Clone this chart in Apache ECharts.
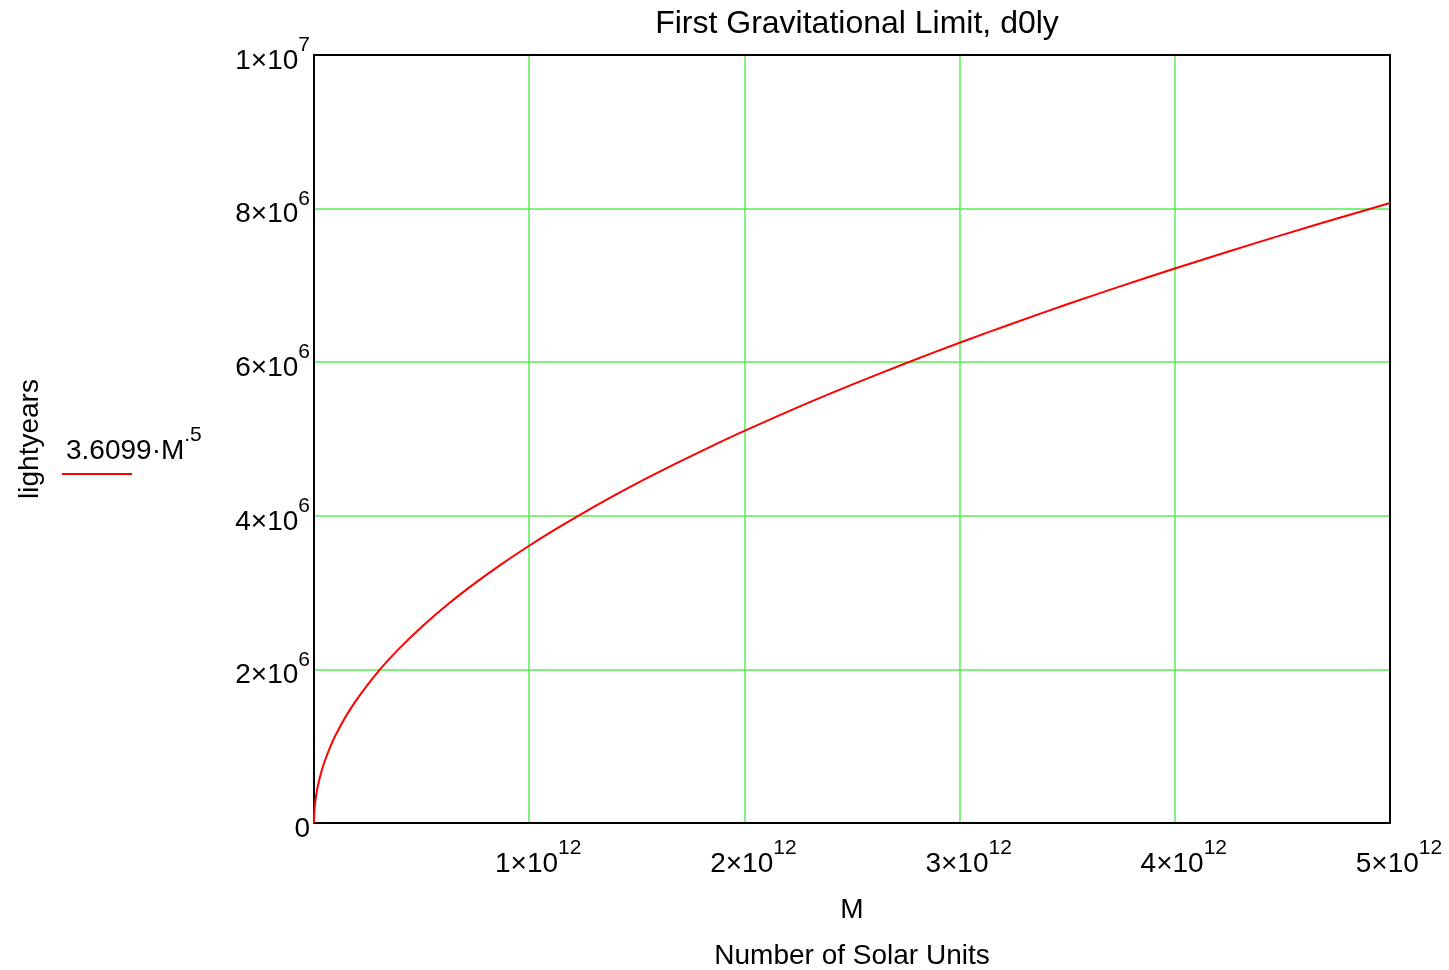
<!DOCTYPE html>
<html>
<head>
<meta charset="utf-8">
<script src="https://cdn.jsdelivr.net/npm/echarts@6/dist/echarts.min.js"></script>
<style>
html,body{margin:0;padding:0;background:#fff;}
#c{width:1449px;height:970px;}
</style>
</head>
<body>
<div id="c"></div>
<script>
// M values (solar units)
const massValues = [0, 0.0002e12, 0.0005e12, 0.001e12, 0.003e12, 0.005e12, 0.01e12, 0.015e12, 0.025e12, 0.035e12, 0.05e12, 0.075e12, 0.1e12, 0.15e12, 0.2e12, 0.3e12, 0.4e12, 0.5e12, 0.625e12, 0.75e12, 0.875e12, 1e12, 1.125e12, 1.25e12, 1.375e12, 1.5e12, 1.625e12, 1.75e12, 1.875e12, 2e12, 2.25e12, 2.5e12, 2.75e12, 3e12, 3.25e12, 3.5e12, 3.75e12, 4e12, 4.25e12, 4.5e12, 4.75e12, 5e12];
// d0ly values (lightyears)
const distanceValues = [0, 0.051e6, 0.081e6, 0.114e6, 0.198e6, 0.255e6, 0.361e6, 0.442e6, 0.571e6, 0.675e6, 0.807e6, 0.989e6, 1.142e6, 1.398e6, 1.614e6, 1.977e6, 2.283e6, 2.553e6, 2.854e6, 3.126e6, 3.377e6, 3.610e6, 3.829e6, 4.036e6, 4.233e6, 4.421e6, 4.602e6, 4.775e6, 4.943e6, 5.105e6, 5.415e6, 5.708e6, 5.986e6, 6.253e6, 6.508e6, 6.754e6, 6.991e6, 7.220e6, 7.442e6, 7.658e6, 7.868e6, 8.072e6];
// tick labels
const xTickLabels = {1e12: ['1', '12'], 2e12: ['2', '12'], 3e12: ['3', '12'], 4e12: ['4', '12'], 5e12: ['5', '12']};
const yTickLabels = {2e6: ['2', '6'], 4e6: ['4', '6'], 6e6: ['6', '6'], 8e6: ['8', '6'], 1e7: ['1', '7']};

const FONT = '"Liberation Sans", Arial, sans-serif';
const chart = echarts.init(document.getElementById('c'), null, {renderer: 'canvas'});
const seriesData = massValues.map((m, i) => [m, distanceValues[i]]);

const richTick = {
  b: {fontFamily: FONT, fontSize: 28, color: '#000', lineHeight: 40, verticalAlign: 'bottom'},
  s: {fontFamily: FONT, fontSize: 21, color: '#000', lineHeight: 40, verticalAlign: 'top'}
};
const frameLine = {show: true, onZero: false, lineStyle: {color: '#000', width: 2}};

chart.setOption({
  animation: false,
  backgroundColor: '#fff',
  title: {
    text: 'First Gravitational Limit, d0ly',
    left: 852, top: 3, textAlign: 'center',
    textStyle: {fontFamily: FONT, fontSize: 32, fontWeight: 'normal', color: '#000'}
  },
  grid: {left: 314, right: 59, top: 55, bottom: 147, outerBoundsMode: 'none', containLabel: false},
  xAxis: [{
    type: 'value', min: 0, max: 5e12, interval: 1e12,
    axisLine: frameLine, axisTick: {show: false},
    splitLine: {show: true, lineStyle: {color: '#55ee55', width: 1.5}},
    axisLabel: {
      margin: 15,
      padding: [0, 0, 0, 18],
      formatter: v => xTickLabels[v] ? '{b|' + xTickLabels[v][0] + '×10}{s|' + xTickLabels[v][1] + '}' : '',
      rich: richTick
    },
    name: '{a|M}\n{a|Number of Solar Units}',
    nameLocation: 'middle', nameGap: 64,
    nameTextStyle: {rich: {a: {fontFamily: FONT, fontSize: 28, color: '#000', lineHeight: 46}}}
  }, {
    type: 'value', position: 'top', min: 0, max: 5e12, interval: 1e12,
    axisLine: frameLine, axisTick: {show: false}, axisLabel: {show: false}, splitLine: {show: false}
  }],
  yAxis: [{
    type: 'value', min: 0, max: 1e7, interval: 2e6,
    axisLine: frameLine, axisTick: {show: false},
    splitLine: {show: true, lineStyle: {color: '#55ee55', width: 1.5}},
    axisLabel: {
      margin: 4,
      formatter: v => v === 0 ? '{b|0}' : '{b|' + yTickLabels[v][0] + '×10}{s|' + yTickLabels[v][1] + '}',
      rich: richTick
    },
    name: 'lightyears', nameLocation: 'middle', nameGap: 270, nameRotate: 90,
    nameTextStyle: {fontFamily: FONT, fontSize: 28, color: '#000'}
  }, {
    type: 'value', position: 'right', min: 0, max: 1e7, interval: 2e6,
    axisLine: frameLine, axisTick: {show: false}, axisLabel: {show: false}, splitLine: {show: false}
  }],
  graphic: [
    {type: 'text', left: 66, top: 425, style: {text: '{b|3.6099·M}{s|.5}', rich: {
      b: {fontFamily: FONT, fontSize: 28, color: '#000', lineHeight: 40, verticalAlign: 'bottom'},
      s: {fontFamily: FONT, fontSize: 21, color: '#000', lineHeight: 40, verticalAlign: 'top'}
    }}},
    {type: 'line', shape: {x1: 62, y1: 474, x2: 132, y2: 474}, style: {stroke: '#ff0000', lineWidth: 2}}
  ],
  series: [{
    type: 'line', name: '3.6099·M^.5', data: seriesData, smooth: 0.3,
    showSymbol: false, lineStyle: {color: '#ff0000', width: 2}, z: 1
  }]
});
</script>
</body>
</html>
